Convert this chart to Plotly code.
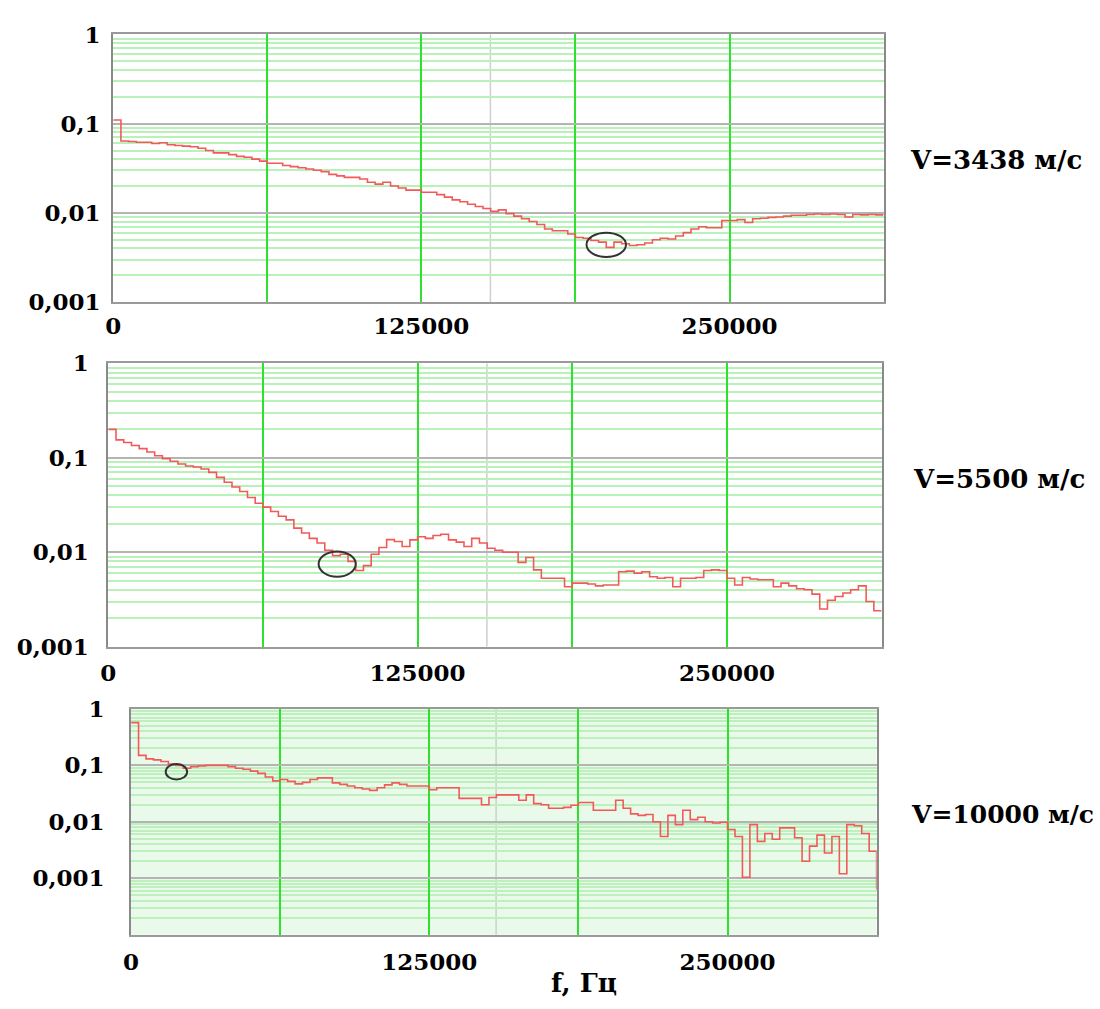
import plotly.graph_objects as go

# ---------------- data ----------------
F_MAX = 312500
BIN = 3125
freq = [i * BIN for i in range(100)] + [F_MAX]

amp_3438 = [
    0.11,
    0.064, 0.063, 0.062, 0.062, 0.060, 0.061, 0.058, 0.057, 0.056,
    0.055, 0.053, 0.050, 0.047, 0.047, 0.045, 0.043, 0.042, 0.040, 0.038,
    0.036, 0.036, 0.034, 0.033, 0.032, 0.031, 0.030, 0.029, 0.027, 0.026,
    0.025, 0.025, 0.024, 0.022, 0.021, 0.022, 0.020, 0.019, 0.018, 0.018,
    0.017, 0.017, 0.016, 0.015, 0.014, 0.0133, 0.0125, 0.0118, 0.0112, 0.0104,
    0.0108, 0.0098, 0.0092, 0.0086, 0.0080, 0.0074, 0.0066, 0.0063, 0.0063, 0.0058,
    0.0053, 0.0052, 0.0049, 0.0047, 0.0041, 0.0047, 0.0045, 0.0043, 0.0044, 0.0046,
    0.0050, 0.0052, 0.0051, 0.0055, 0.0060, 0.0066, 0.0070, 0.0068, 0.0068, 0.0082,
    0.0082, 0.0084, 0.0078, 0.0086, 0.0087, 0.0089, 0.0090, 0.0092, 0.0094, 0.0094,
    0.0096, 0.0097, 0.0096, 0.0097, 0.0096, 0.0090, 0.0096, 0.0095, 0.0096, 0.0095,
    0.0095,
]

amp_5500 = [
    0.20,
    0.155, 0.145, 0.135, 0.125, 0.115, 0.105, 0.098, 0.092, 0.086,
    0.082, 0.080, 0.076, 0.070, 0.062, 0.055, 0.049, 0.044, 0.038, 0.033,
    0.030, 0.027, 0.024, 0.022, 0.018, 0.016, 0.014, 0.0125, 0.0105, 0.0092,
    0.0095, 0.0080, 0.0064, 0.0072, 0.0095, 0.0112, 0.0136, 0.0130, 0.0115, 0.0135,
    0.0146, 0.0140, 0.0150, 0.0155, 0.0135, 0.0128, 0.0115, 0.0140, 0.0125, 0.0110,
    0.0105, 0.0100, 0.0100, 0.0078, 0.0088, 0.0065, 0.0053, 0.0053, 0.0053, 0.0043,
    0.0047, 0.0047, 0.0046, 0.0044, 0.0045, 0.0045, 0.0062, 0.0063, 0.0060, 0.0062,
    0.0055, 0.0053, 0.0054, 0.0043, 0.0053, 0.0053, 0.0054, 0.0064, 0.0065, 0.0064,
    0.0053, 0.0045, 0.0054, 0.0052, 0.0051, 0.0051, 0.0043, 0.0047, 0.0044, 0.0041,
    0.0040, 0.0036, 0.0025, 0.0031, 0.0034, 0.0037, 0.0040, 0.0044, 0.0030, 0.0024,
    0.0024,
]

amp_10000 = [
    0.57,
    0.150, 0.130, 0.125, 0.117, 0.105, 0.100, 0.089, 0.095, 0.098,
    0.100, 0.100, 0.100, 0.095, 0.089, 0.085, 0.079, 0.072, 0.062, 0.053,
    0.056, 0.052, 0.047, 0.050, 0.056, 0.060, 0.060, 0.049, 0.046, 0.043,
    0.040, 0.038, 0.036, 0.040, 0.045, 0.049, 0.046, 0.043, 0.043, 0.043,
    0.037, 0.040, 0.040, 0.040, 0.026, 0.026, 0.026, 0.020, 0.027, 0.030,
    0.030, 0.030, 0.024, 0.030, 0.021, 0.020, 0.0174, 0.0174, 0.018, 0.0196,
    0.022, 0.022, 0.016, 0.016, 0.016, 0.024, 0.0174, 0.0138, 0.0130, 0.0135,
    0.0100, 0.0055, 0.013, 0.0089, 0.016, 0.0109, 0.0120, 0.0100, 0.0095, 0.0098,
    0.0073, 0.0055, 0.00104, 0.0089, 0.0045, 0.0062, 0.0049, 0.0078, 0.0078, 0.0052,
    0.0020, 0.0037, 0.0058, 0.0028, 0.0055, 0.0012, 0.0089, 0.0085, 0.0062, 0.0030,
    0.00063,
]

panel_labels = ["V=3438 м/с", "V=5500 м/с", "V=10000 м/с"]
x_tick_vals = [0, 62500, 125000, 187500, 250000, 312500]
x_tick_text = ["0", "", "125000", "", "250000", ""]
y_tick_vals = [1, 0.1, 0.01, 0.001]
y_tick_text = ["1", "0,1", "0,01", "0,001"]
x_title = "f, Гц"

# marked minima (ellipses): [f0, f1, a0, a1]
marks = [
    [192000, 208000, 0.0032, 0.0060],
    [85000, 100000, 0.0055, 0.0102],
    [14500, 23500, 0.0560, 0.1060],
]
seam_f = 153000

# ---------------- layout geometry (pixels) ----------------
W, H = 1100, 1009
boxes = [  # left, right, top, bottom
    (106, 882, 21, 296),
    (101, 880, 359, 650),
    (124, 875, 714, 946),
]
y_ranges = [[-3, 0], [-3, 0], [-4, 0]]
y_ticklen = [6, 13, 20]
x_ticklen = [2, 5, 6]
label_pos = [(1084, 150), (1087, 478), (1096, 823)]
label_size = [26, 26, 25]

FONT = "DejaVu Serif"
tickfont = dict(family=FONT, size=23, color="black", weight="bold")

series = [amp_3438, amp_5500, amp_10000]

fig = go.Figure()
layout = dict(
    width=W, height=H, autosize=False,
    margin=dict(l=0, r=0, t=0, b=0),
    paper_bgcolor="white", plot_bgcolor="white",
    showlegend=False,
    shapes=[], annotations=[],
)

for i in range(3):
    sx = "" if i == 0 else str(i + 1)
    l, r, t, b = boxes[i]
    lo, hi = y_ranges[i]
    minor_vals = [m * 10 ** e for e in range(lo, hi) for m in range(2, 10)]
    fig.add_trace(go.Scatter(
        x=freq, y=series[i], mode="lines", line_shape="hv",
        line=dict(color="#f25a5a", width=1.6),
        xaxis="x" + sx, yaxis="y" + sx, hoverinfo="skip",
    ))
    layout["xaxis" + sx] = dict(
        domain=[l / W, r / W], anchor="y" + sx, range=[0, F_MAX],
        tickmode="array", tickvals=x_tick_vals, ticktext=x_tick_text,
        showgrid=True, gridcolor="#2fe02f", gridwidth=1.5,
        showline=True, linecolor="#9a9a9a", linewidth=2, mirror=True,
        zeroline=False, ticks="outside", ticklen=x_ticklen[i],
        tickcolor="rgba(0,0,0,0)", tickfont=tickfont,
    )
    layout["yaxis" + sx] = dict(
        domain=[1 - b / H, 1 - t / H], anchor="x" + sx, type="log",
        range=[lo, hi],
        tickmode="array", tickvals=y_tick_vals, ticktext=y_tick_text,
        showgrid=True, gridcolor="#b4b4b4", gridwidth=2,
        minor=dict(tickmode="array", tickvals=minor_vals, showgrid=True,
                   gridcolor="#b9f2b9" if i < 2 else "#bdf0bd",
                   gridwidth=1.5 if i < 2 else 2, ticks=""),
        showline=True, linecolor="#8a8a8a", linewidth=2, mirror=True,
        zeroline=False, ticks="outside", ticklen=y_ticklen[i],
        tickcolor="rgba(0,0,0,0)", tickfont=tickfont,
    )
    if i == 2:
        layout["shapes"].append(dict(
            type="rect", xref="x" + sx + " domain", yref="y" + sx + " domain",
            x0=0, x1=1, y0=0, y1=1, layer="below",
            fillcolor="#eafaea", line=dict(width=0),
        ))
    layout["shapes"].append(dict(
        type="line", xref="x" + sx, yref="y" + sx + " domain",
        x0=seam_f, x1=seam_f, y0=0, y1=1, layer="below",
        line=dict(color="#cfcfcf", width=1.5),
    ))
    f0, f1, a0, a1 = marks[i]
    layout["shapes"].append(dict(
        type="circle", xref="x" + sx, yref="y" + sx,
        x0=f0, x1=f1, y0=a0, y1=a1,
        line=dict(color="#333333", width=2),
    ))
    lx, ly = label_pos[i]
    layout["annotations"].append(dict(
        text="<b>" + panel_labels[i] + "</b>", xref="paper", yref="paper",
        x=lx / W, y=1 - ly / H, xanchor="right", yanchor="middle",
        showarrow=False, font=dict(family=FONT, size=label_size[i], color="black"),
    ))

layout["annotations"].append(dict(
    text="<b>" + x_title + "</b>", xref="paper", yref="paper",
    x=580 / W, y=1 - 996 / H, xanchor="center", yanchor="middle",
    showarrow=False, font=dict(family=FONT, size=26, color="black"),
))

fig.update_layout(**layout)
fig.write_html(
    "out.html",
    config={"displayModeBar": False},
    post_script=("document.body.style.margin='0';"
                 "document.body.style.padding='0';"
                 "document.documentElement.style.overflow='hidden';"
                 "document.body.style.overflow='hidden';"),
)
